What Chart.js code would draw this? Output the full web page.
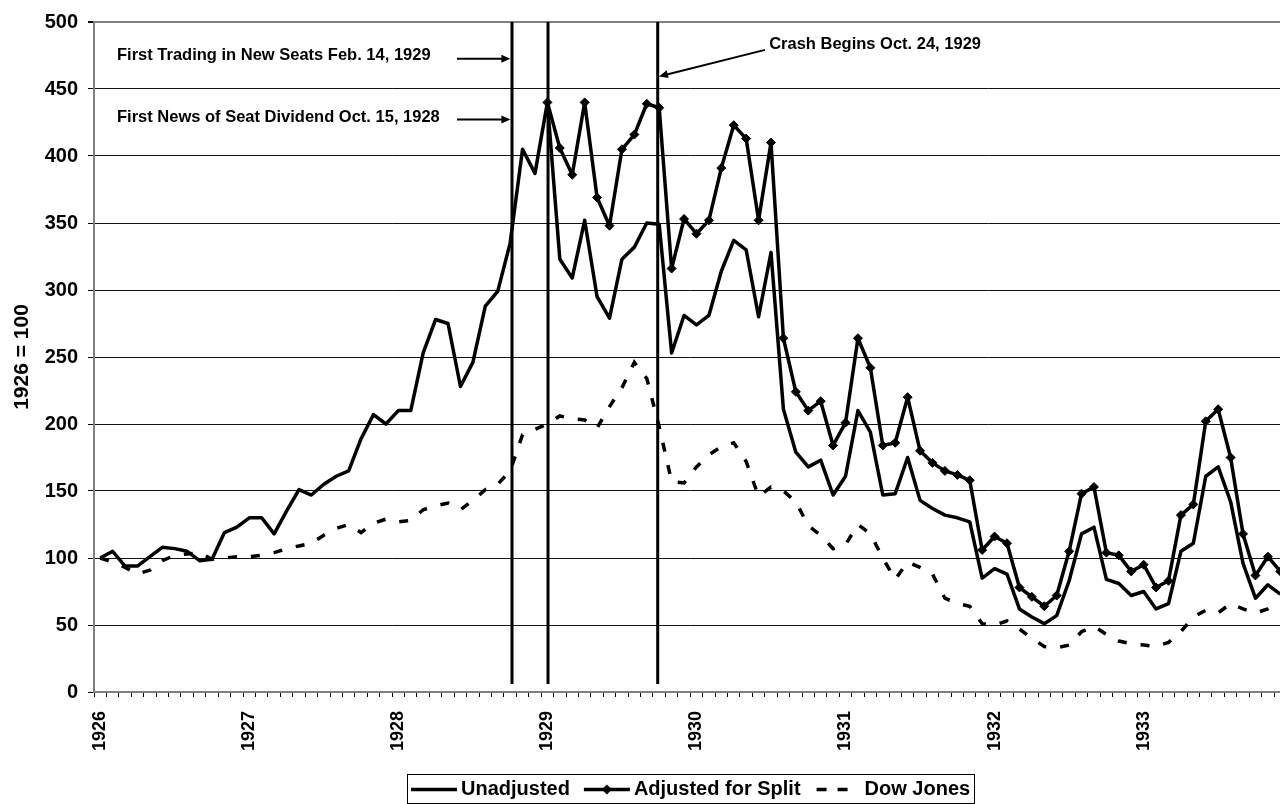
<!DOCTYPE html>
<html>
<head>
<meta charset="utf-8">
<script src="https://cdn.jsdelivr.net/npm/chart.js@4.4.1/dist/chart.umd.min.js"></script>
<style>
  html, body { margin: 0; padding: 0; background: #fff; overflow: hidden; }
  #wrap { width: 1292px; height: 804px; }
</style>
</head>
<body>
<div id="wrap"><canvas id="chart" width="1292" height="804"></canvas></div>
<script>
// monthly index numbers, 1926 = 100
const years = ['1926', '1927', '1928', '1929', '1930', '1931', '1932', '1933'];
const monthNames = ['Jan', 'Feb', 'Mar', 'Apr', 'May', 'Jun', 'Jul', 'Aug', 'Sep', 'Oct', 'Nov', 'Dec'];
const months = years.flatMap(y => monthNames.map(m => m + ' ' + y));

const unadjusted = [
  100, 105, 94, 94, 101, 108, 107, 105, 98, 99, 119, 123,
  130, 130, 118, 135, 151, 147, 155, 161, 165, 189, 207, 200,
  210, 210, 253, 278, 275, 228, 246, 288, 299, 335, 405, 387,
  440, 323, 309, 352, 295, 279, 323, 332, 350, 349, 253, 281,
  274, 281, 314, 337, 330, 280, 328, 211, 179, 168, 173, 147,
  161, 210, 194, 147, 148, 175, 143, 137, 132, 130, 127, 85,
  92, 88, 62, 56, 51, 57, 83, 118, 123, 84, 81, 72,
  75, 62, 66, 105, 111, 161, 168, 142, 96, 70, 80, 73
];

const adjustedForSplit = [
  null, null, null, null, null, null, null, null, null, null, null, null,
  null, null, null, null, null, null, null, null, null, null, null, null,
  null, null, null, null, null, null, null, null, null, null, null, null,
  440, 406, 386, 440, 369, 348, 405, 416, 439, 436, 316, 353,
  342, 352, 391, 423, 413, 352, 410, 264, 224, 210, 217, 184,
  201, 264, 242, 184, 186, 220, 180, 171, 165, 162, 158, 106,
  116, 111, 78, 71, 64, 72, 105, 148, 153, 104, 102, 90,
  95, 78, 83, 132, 140, 202, 211, 175, 118, 87, 101, 90
];

const dowJones = [
  100, 97, 93, 88, 91, 98, 102, 103, 104, 99, 100, 101,
  101, 102, 104, 107, 109, 111, 117, 122, 125, 119, 126, 129,
  127, 128, 136, 139, 141, 136, 143, 151, 155, 165, 192, 196,
  200, 206, 204, 203, 197, 213, 227, 246, 234, 198, 157, 156,
  168, 177, 183, 186, 172, 146, 153, 150, 142, 124, 117, 107,
  110, 125, 118, 100, 84, 97, 93, 88, 70, 66, 64, 51,
  50, 53, 47, 40, 34, 33, 35, 45, 49, 43, 38, 36,
  35, 34, 37, 45, 56, 61, 59, 66, 62, 59, 62, 67
];

// vertical event markers, in month index units
const eventMonths = [33.15, 36.05, 44.88];

const FONT = "'Liberation Sans', Arial, sans-serif";

const notes = [
  { text: 'First Trading in New Seats Feb. 14, 1929', at: [1.35, 475.4] },
  { text: 'First News of Seat Dividend Oct. 15, 1928', at: [1.35, 429] },
  { text: 'Crash Begins Oct. 24, 1929', at: [53.85, 483.6] }
];
const arrows = [
  { from: [28.72, 472.5], to: [33.02, 472.5] },
  { from: [28.72, 427.3], to: [33.02, 427.3] },
  { from: [53.52, 479.2], to: [44.98, 459.4] }
];

function drawArrow(ctx, x1, y1, x2, y2) {
  const ang = Math.atan2(y2 - y1, x2 - x1);
  const len = 9, half = 4;
  ctx.beginPath();
  ctx.moveTo(x1, y1);
  ctx.lineTo(x2 - Math.cos(ang) * len * 0.8, y2 - Math.sin(ang) * len * 0.8);
  ctx.stroke();
  ctx.beginPath();
  ctx.moveTo(x2, y2);
  ctx.lineTo(x2 - Math.cos(ang) * len + Math.sin(ang) * half, y2 - Math.sin(ang) * len - Math.cos(ang) * half);
  ctx.lineTo(x2 - Math.cos(ang) * len - Math.sin(ang) * half, y2 - Math.sin(ang) * len + Math.cos(ang) * half);
  ctx.closePath();
  ctx.fill();
}

const annotations = {
  id: 'annotations',
  afterDatasetsDraw(chart) {
    const { ctx, chartArea, scales: { x, y } } = chart;
    ctx.save();
    ctx.strokeStyle = '#000';
    ctx.fillStyle = '#000';
    // event lines
    ctx.lineWidth = 3;
    eventMonths.forEach(m => {
      const px = x.getPixelForValue(m);
      ctx.beginPath();
      ctx.moveTo(px, chartArea.top);
      ctx.lineTo(px, y.getPixelForValue(6));
      ctx.stroke();
    });
    // arrows
    ctx.lineWidth = 2;
    arrows.forEach(a => {
      drawArrow(ctx, x.getPixelForValue(a.from[0]), y.getPixelForValue(a.from[1]),
        x.getPixelForValue(a.to[0]), y.getPixelForValue(a.to[1]));
    });
    // labels
    ctx.font = 'bold 16.5px ' + FONT;
    ctx.textBaseline = 'middle';
    ctx.textAlign = 'left';
    notes.forEach(n => {
      ctx.fillText(n.text, x.getPixelForValue(n.at[0]), y.getPixelForValue(n.at[1]));
    });
    ctx.restore();
  }
};

const boxLegend = {
  id: 'boxLegend',
  afterDraw(chart) {
    const { ctx, chartArea } = chart;
    ctx.save();
    ctx.font = 'bold 20px ' + FONT;
    const sampleW = 46, gap = 4, itemGap = 14, pad = 4;
    const items = chart.data.datasets.map(ds => ({ ds, w: ctx.measureText(ds.label).width }));
    let total = pad * 2;
    items.forEach((it, i) => { total += sampleW + gap + it.w + (i ? itemGap : 0); });
    let x = Math.round((chartArea.left + chartArea.right) / 2 - total / 2);
    const bottom = chart.height - 1, top = bottom - 29, cy = (top + bottom) / 2 + 1;
    ctx.strokeStyle = '#000';
    ctx.lineWidth = 1;
    ctx.strokeRect(x + 0.5, top + 0.5, Math.round(total), bottom - top);
    x += pad;
    ctx.fillStyle = '#000';
    ctx.textBaseline = 'middle';
    items.forEach((it, i) => {
      if (i) x += itemGap;
      const ds = it.ds;
      ctx.lineWidth = ds.borderWidth;
      ctx.beginPath();
      if (ds.borderDash && ds.borderDash.length) {
        ctx.setLineDash([10, 11]);
        ctx.moveTo(x + 2, cy);
        ctx.lineTo(x + 34, cy);
      } else {
        ctx.setLineDash([]);
        ctx.moveTo(x, cy);
        ctx.lineTo(x + sampleW, cy);
      }
      ctx.stroke();
      ctx.setLineDash([]);
      if (ds.pointRadius) {
        const r = ds.pointRadius + 0.5, cx = x + sampleW / 2;
        ctx.beginPath();
        ctx.moveTo(cx, cy - r);
        ctx.lineTo(cx + r, cy);
        ctx.lineTo(cx, cy + r);
        ctx.lineTo(cx - r, cy);
        ctx.closePath();
        ctx.fill();
      }
      x += sampleW + gap;
      ctx.fillText(ds.label, x, cy);
      x += it.w;
    });
    ctx.restore();
  }
};

new Chart(document.getElementById('chart'), {
  type: 'line',
  data: {
    labels: months,
    datasets: [
      {
        label: 'Unadjusted',
        data: unadjusted,
        borderColor: '#000',
        borderWidth: 3.5,
        pointRadius: 0,
        borderJoinStyle: 'round',
        tension: 0
      },
      {
        label: 'Adjusted for Split',
        data: adjustedForSplit,
        borderColor: '#000',
        backgroundColor: '#000',
        borderWidth: 3.5,
        pointStyle: 'rectRot',
        pointRadius: 4.5,
        pointBorderWidth: 1,
        borderJoinStyle: 'round',
        tension: 0
      },
      {
        label: 'Dow Jones',
        data: dowJones,
        borderColor: '#000',
        borderWidth: 3.5,
        borderDash: [9, 14],
        borderCapStyle: 'butt',
        pointRadius: 0,
        tension: 0
      }
    ]
  },
  options: {
    responsive: false,
    animation: false,
    layout: { padding: { left: 0, top: 20, right: 2, bottom: 0 } },
    plugins: {
      legend: { display: false },
      tooltip: { enabled: false }
    },
    scales: {
      x: {
        type: 'category',
        offset: true,
        afterFit(scale) {
          scale.height = 112;
          scale.paddingLeft = 0;
          scale.paddingRight = 0;
        },
        grid: { offset: true, drawOnChartArea: false, drawTicks: true, tickLength: 5, color: '#000' },
        border: { display: true, color: '#7f7f7f', width: 2 },
        ticks: {
          autoSkip: false,
          maxRotation: 90,
          minRotation: 90,
          padding: 14,
          color: '#000',
          font: { family: FONT, size: 18, weight: 'bold' },
          callback: (val, i) => (i % 12 === 0 ? years[i / 12] : '')
        }
      },
      y: {
        min: 0,
        max: 500,
        afterFit(scale) { scale.width = 94; },
        ticks: {
          stepSize: 50,
          padding: 10,
          color: '#000',
          font: { family: FONT, size: 20, weight: 'bold' }
        },
        grid: {
          color: ctx => (ctx.tick && ctx.tick.value === 500 ? '#7f7f7f' : '#111'),
          lineWidth: ctx => (ctx.tick && ctx.tick.value === 500 ? 2 : 1),
          tickLength: 6,
          tickColor: '#000'
        },
        border: { display: true, color: '#7f7f7f', width: 2 },
        title: {
          display: true,
          text: '1926 = 100',
          color: '#000',
          padding: { top: 10, bottom: 0 },
          font: { family: FONT, size: 21, weight: 'bold' }
        }
      }
    }
  },
  plugins: [annotations, boxLegend]
});
</script>
</body>
</html>
